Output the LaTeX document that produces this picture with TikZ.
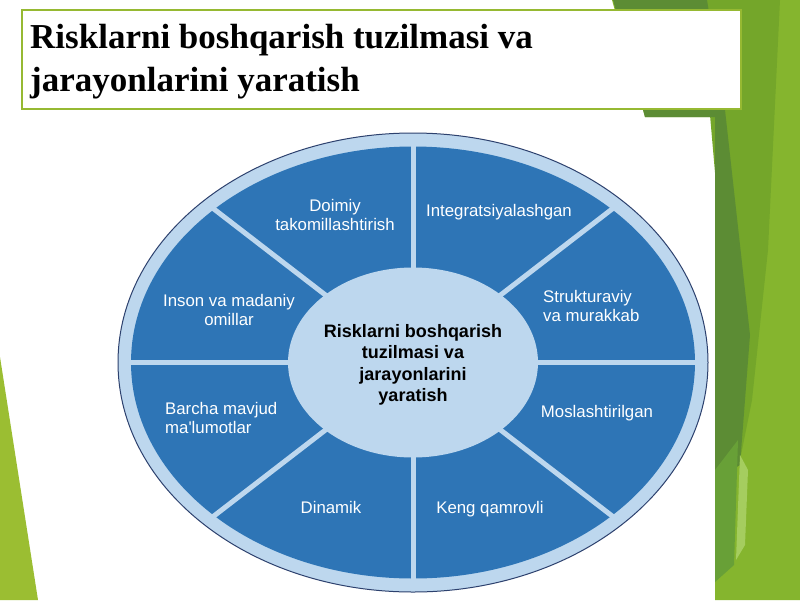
\documentclass[tikz,border=0pt]{standalone}
\usepackage{fontspec}
\setmainfont{Liberation Serif}
\newfontfamily\lblfont{Liberation Sans}
\usepackage{tikz}

\definecolor{sectorblue}{RGB}{46,117,182}
\definecolor{ringblue}{RGB}{189,215,238}
\definecolor{rimnavy}{RGB}{45,65,110}
\definecolor{leafdark}{RGB}{92,140,52}
\definecolor{leafmid}{RGB}{116,166,42}
\definecolor{leaflight}{RGB}{133,181,46}
\definecolor{leafpale}{RGB}{165,205,95}
\definecolor{leaflow}{RGB}{104,160,55}
\definecolor{leafleft}{RGB}{155,190,50}
\definecolor{titlerim}{RGB}{150,185,50}

\begin{document}
\begin{tikzpicture}[x=1pt,y=-1pt,
    sector/.style={text=white,font=\lblfont\fontsize{16.8}{19.5}\selectfont,align=center,inner sep=0pt},
    hub/.style={font=\lblfont\bfseries\fontsize{18}{21.5}\selectfont,align=center,inner sep=0pt}]

    \fill[white] (0,0) rectangle (800,600);
    \useasboundingbox (0,0) rectangle (800,600);

    % green leaves at the side
    \fill[leaflight] (612,0) -- (800,0) -- (800,600) -- (715,600) -- (715,117) -- (645,117) -- cycle;
    \fill[leafmid] (700,0) -- (780,0) -- (768,250) -- (752,400) -- (740,460) -- cycle;
    \fill[leafdark] (613,0) -- (707,0) -- (725,110) -- (750,335) -- (740,465) -- (715,480) -- (715,117) -- (645,117) -- cycle;
    \fill[leaflow] (715,470) -- (738,440) -- (734,565) -- (715,582) -- cycle;
    \fill[leafpale] (740,455) -- (748,470) -- (745,545) -- (736,560) -- cycle;
    \fill[leafleft] (0,357) -- (38,600) -- (0,600) -- cycle;

    % title
    \draw[titlerim, line width=1.5, fill=white] (22,10) rectangle (741,109);
    \node[anchor=base west, align=left, inner sep=0pt, font=\bfseries\fontsize{35}{42.7}\selectfont] (title) at (30,91) {Risklarni boshqarish tuzilmasi va\\jarayonlarini yaratish};

    % the wheel
    \draw[rimnavy, line width=1, fill=ringblue] (413,362.5) ellipse [x radius=295, y radius=229.5];
    \fill[sectorblue] (413,362.5) ellipse [x radius=282, y radius=216];
    \foreach \a in {0,45,...,315}
        \draw[ringblue, line width=5] (413,362.5) -- ++(\a:288 and 222);
    \fill[ringblue] (413,362.5) ellipse [x radius=125, y radius=95];

    \node[hub] (core) at (413,365) {Risklarni boshqarish\\tuzilmasi va\\jarayonlarini\\yaratish};

    \node[sector] (doimiy) at (335,215) {Doimiy\\takomillashtirish};
    \node[sector] (integr) at (499,212) {Integratsiyalashgan};
    \node[sector] (inson) at (229,310) {Inson va madaniy\\omillar};
    \node[sector, align=left, anchor=west] (strukt) at (543,306) {Strukturaviy\\va murakkab};
    \node[sector] (mosl) at (597,413) {Moslashtirilgan};
    \node[sector, align=left, anchor=west] (barcha) at (165,418) {Barcha mavjud\\ma'lumotlar};
    \node[sector] (dinamik) at (331,507) {Dinamik};
    \node[sector] (keng) at (490,509) {Keng qamrovli};
\end{tikzpicture}
\end{document}
